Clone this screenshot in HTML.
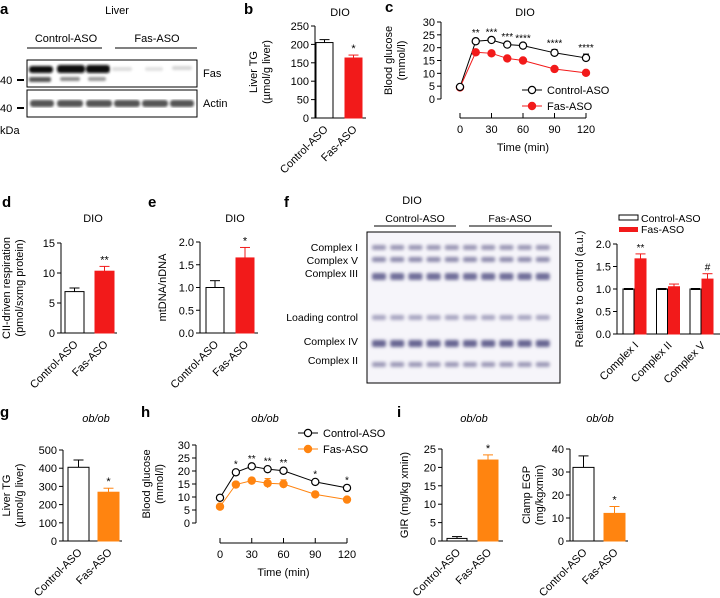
<!DOCTYPE html>
<html><head><meta charset="utf-8"><style>
body{margin:0;background:#fff}
svg{display:block;font-family:"Liberation Sans",Arial,sans-serif}
</style></head><body>
<svg id="fig" width="720" height="598" viewBox="0 0 720 598" xmlns="http://www.w3.org/2000/svg">
<defs>
<filter id="blur1"><feGaussianBlur stdDeviation="1.2"/></filter>
<filter id="blur2"><feGaussianBlur stdDeviation="1.6"/></filter>
</defs>
<g font-weight="bold" font-size="15">
<text x="0" y="14">a</text><text x="244" y="14">b</text><text x="385" y="12">c</text>
<text x="2" y="207">d</text><text x="148" y="207">e</text><text x="284" y="207">f</text>
<text x="0" y="417">g</text><text x="141" y="417">h</text><text x="397" y="417">i</text>
</g>
<g font-size="11">
<text x="117" y="14" text-anchor="middle">Liver</text>
<text x="66" y="42" text-anchor="middle">Control-ASO</text>
<text x="157" y="42" text-anchor="middle">Fas-ASO</text>
<line x1="27" y1="48" x2="102" y2="48" stroke="#000"/>
<line x1="115" y1="48" x2="197" y2="48" stroke="#000"/>
<rect x="27" y="60" width="170" height="27" fill="#fff" stroke="#000"/>
<g filter="url(#blur1)">
<rect x="29" y="66" width="24" height="7" rx="3" fill="#111"/>
<rect x="57" y="65" width="28" height="8" rx="3" fill="#111"/>
<rect x="86" y="65" width="24" height="8" rx="3" fill="#111"/>
<rect x="29" y="77" width="22" height="5" rx="2" fill="#555"/>
<rect x="60" y="77" width="20" height="4" rx="2" fill="#888"/>
<rect x="88" y="77" width="18" height="4" rx="2" fill="#999"/>
<rect x="112" y="67" width="20" height="4" rx="2" fill="#ddd"/>
<rect x="145" y="67" width="18" height="4" rx="2" fill="#e2e2e2"/>
<rect x="172" y="66" width="20" height="4" rx="2" fill="#d6d6d6"/>
</g>
<rect x="27" y="90" width="170" height="27" fill="#fff" stroke="#000"/>
<g filter="url(#blur1)" fill="#555">
<rect x="30" y="100" width="24" height="7" rx="3"/><rect x="57" y="100" width="26" height="7" rx="3"/>
<rect x="86" y="100" width="26" height="7" rx="3"/><rect x="114" y="100" width="26" height="7" rx="3"/>
<rect x="142" y="100" width="26" height="7" rx="3"/><rect x="170" y="100" width="24" height="7" rx="3"/>
</g>
<text x="203" y="77">Fas</text><text x="203" y="107">Actin</text>
<text x="0" y="84">40</text><line x1="17" y1="80" x2="24" y2="80" stroke="#000" stroke-width="2"/>
<text x="0" y="112">40</text><line x1="17" y1="108" x2="24" y2="108" stroke="#000" stroke-width="2"/>
<text x="0" y="134">kDa</text>
</g>
<g font-size="10.5">
<text x="412" y="204" text-anchor="middle" font-size="11">DIO</text>
<text x="415" y="222" text-anchor="middle">Control-ASO</text>
<text x="510" y="222" text-anchor="middle">Fas-ASO</text>
<line x1="374" y1="226" x2="456" y2="226" stroke="#000"/>
<line x1="469" y1="226" x2="552" y2="226" stroke="#000"/>
<rect x="367" y="232" width="193" height="151" fill="#f6f5fa" stroke="#000"/>
<g id="fbands" filter="url(#blur2)"></g>
<g text-anchor="end">
<text x="358" y="251">Complex I</text><text x="358" y="264">Complex V</text><text x="358" y="277">Complex III</text>
<text x="358" y="321">Loading control</text><text x="358" y="345">Complex IV</text><text x="358" y="364">Complex II</text>
</g>
</g>
<g id="charts"></g>
</svg>
<script>
const groups = ["Control-ASO", "Fas-ASO"];
const bLiverTG = [205, 163]; const bErr = [8, 8];
const timePts = [0, 15, 30, 45, 60, 90, 120];
const cControl = [4.7, 22.5, 23, 21.2, 20.8, 18, 16];
const cFas = [4.5, 18.2, 17.8, 15.8, 15, 11.7, 10.2];
const cControlErr = [0.3, 0.8, 0.5, 0.6, 0.5, 1.3, 1.5];
const cStars = ["", "**", "***", "***", "****", "****", "****"];
const dResp = [6.9, 10.3]; const dErr = [0.6, 0.8];
const eMt = [1.0, 1.65]; const eErr = [0.15, 0.23];
const fComplex = ["Complex I", "Complex II", "Complex V"];
const fControl = [1.0, 1.0, 1.0]; const fFas = [1.67, 1.05, 1.22];
const fFasErr = [0.11, 0.06, 0.12]; const fStars = ["**", "", "#"];
const gTG = [405, 268]; const gErr = [40, 22];
const hControl = [9.7, 19.5, 21.8, 20.7, 20.1, 15.8, 13.5];
const hFas = [6.3, 14.8, 16.3, 15.3, 15, 11, 9];
const hFasErr = [0.4, 0.6, 1.0, 1.8, 1.6, 0.8, 0.6];
const hStars = ["", "*", "**", "**", "**", "*", "*"];
const iGIR = [0.7, 22]; const iGIRErr = [0.5, 1.4];
const iEGP = [32, 12]; const iEGPErr = [5, 3];
const bandRows = [248, 260, 276, 318, 343, 365];
const bandShade = ["#8a86a8", "#7d7aa0", "#5b5888", "#9a96b6", "#4f4c80", "#8d89ac"];

const NS = "http://www.w3.org/2000/svg";
const root = document.getElementById("charts");
function mk(tag, attrs, parent, txt) {
  const e = document.createElementNS(NS, tag);
  for (const k in attrs) e.setAttribute(k, attrs[k]);
  if (txt !== undefined) e.textContent = txt;
  (parent || root).appendChild(e);
  return e;
}
function lin(d0, d1, r0, r1) { return v => r0 + (v - d0) / (d1 - d0) * (r1 - r0); }

const fb = document.getElementById("fbands");
for (let r = 0; r < bandRows.length; r++) {
  for (let l = 0; l < 10; l++) {
    const b = mk("rect", {x: 372 + l * 18.2, y: bandRows[r] - 3, width: 14, height: r === 2 || r === 4 ? 7 : 5, rx: 2, fill: bandShade[r], opacity: 0.85}, fb);
    
    
  }
}

function yAxis(g, x, y, ticks, fmt, name) {
  const ax = mk("line", {x1: x, y1: y(ticks[0]), x2: x, y2: y(ticks[ticks.length - 1]), stroke: "#000"}, g);
  
  
  ticks.forEach(t => {
    mk("line", {x1: x - 4, y1: y(t), x2: x, y2: y(t), stroke: "#000"}, g);
    const tl = mk("text", {x: x - 6, y: y(t) + 4, "text-anchor": "end", "font-size": 11}, g, fmt(t));
    
    
  });
}
function yTitle(g, x, yc, lines, name) {
  const t = mk("text", {transform: `translate(${x},${yc}) rotate(-90)`, "text-anchor": "middle", "font-size": 11}, g);
  
  
  lines.forEach((l, i) => mk("tspan", {x: 0, dy: i ? 13 : 0}, t, l));
}
function title(g, x, y, s, italic) {
  const t = mk("text", {x, y, "text-anchor": "middle", "font-size": 11, "font-style": italic ? "italic" : "normal"}, g, s);
  
  
}
function errBar(g, xc, y0, y1, col) {
  mk("line", {x1: xc, y1: y0, x2: xc, y2: y1, stroke: col}, g);
  mk("line", {x1: xc - 5, y1: y1, x2: xc + 5, y2: y1, stroke: col}, g);
}
function rotLabel(g, xc, y, s) {
  const t = mk("text", {transform: `translate(${xc + 4},${y}) rotate(-45)`, "text-anchor": "end", "font-size": 11}, g, s);
  
  
}
function barChart(o) {
  const g = mk("g", {});
  
  
  const y = lin(o.ticks[0], o.ticks[o.ticks.length - 1], o.y0, o.y1);
  title(g, o.tx, o.ty, o.title, o.italic);
  yAxis(g, o.ax, y, o.ticks, o.fmt, 'y-axis');
  yTitle(g, o.ytx, (o.y0 + o.y1) / 2, o.ylab, 'y-axis-title');
  mk("line", {x1: o.ax, y1: o.y0, x2: o.axEnd, y2: o.y0, stroke: "#000"}, g);
  o.vals.forEach((v, i) => {
    const x = o.bx[i], col = i ? o.col : "#fff", sc = i ? o.col : "#000";
    const r = mk("rect", {x, y: y(v), width: o.bw, height: o.y0 - y(v), fill: col, stroke: sc}, g);
    
    
    errBar(g, x + o.bw / 2, y(v), y(v + o.err[i]), sc);
    if (i && o.star) mk("text", {x: x + o.bw / 2, y: y(v + o.err[i]) - 3, "text-anchor": "middle", "font-size": 11}, g, o.star);
    rotLabel(g, x + o.bw / 2, o.y0 + 12, groups[i]);
  });
}
barChart({name: "liver-tg-chart-b", title: "DIO", tx: 340, ty: 16, ticks: [0, 50, 100, 150, 200, 250], fmt: v => v, y0: 118, y1: 26, ax: 315, axEnd: 366, bx: [316, 345], bw: 17, vals: bLiverTG, err: bErr, col: "#f21a1a", star: "*", ytx: 257, ylab: ["Liver TG", "(µmol/g liver)"]});
barChart({name: "respiration-chart-d", title: "DIO", tx: 93, ty: 222, ticks: [0, 5, 10, 15], fmt: v => v, y0: 333, y1: 243, ax: 61, axEnd: 117, bx: [65, 95], bw: 19, vals: dResp, err: dErr, col: "#f21a1a", star: "**", ytx: 10, ylab: ["CII-driven respiration", "(pmol/sxmg protein)"]});
barChart({name: "mtdna-chart-e", title: "DIO", tx: 235, ty: 222, ticks: [0, 0.5, 1, 1.5, 2], fmt: v => v.toFixed(1), y0: 333, y1: 242, ax: 200, axEnd: 258, bx: [206, 236], bw: 18, vals: eMt, err: eErr, col: "#f21a1a", star: "*", ytx: 166, ylab: ["mtDNA/nDNA"]});
barChart({name: "liver-tg-chart-g", title: "ob/ob", italic: true, tx: 96, ty: 422, ticks: [0, 100, 200, 300, 400, 500], fmt: v => v, y0: 541, y1: 450, ax: 63, axEnd: 122, bx: [68, 98], bw: 21, vals: gTG, err: gErr, col: "#ff8410", star: "*", ytx: 10, ylab: ["Liver TG", "(µmol/g liver)"]});
barChart({name: "gir-chart-i", title: "ob/ob", italic: true, tx: 474, ty: 422, ticks: [0, 5, 10, 15, 20, 25], fmt: v => v, y0: 541, y1: 449, ax: 442, axEnd: 503, bx: [447, 478], bw: 20, vals: iGIR, err: iGIRErr, col: "#ff8410", star: "*", ytx: 408, ylab: ["GIR (mg/kg xmin)"]});
barChart({name: "egp-chart-i", title: "ob/ob", italic: true, tx: 600, ty: 422, ticks: [0, 10, 20, 30, 40], fmt: v => v, y0: 541, y1: 449, ax: 570, axEnd: 628, bx: [573, 604], bw: 21, vals: iEGP, err: iEGPErr, col: "#ff8410", star: "*", ytx: 530, ylab: ["Clamp EGP", "(mg/kgxmin)"]});

(function () {
  const g = mk("g", {});
  
  
  const y = lin(0, 2, 334, 244);
  yAxis(g, 617, y, [0, 0.5, 1, 1.5, 2], v => v.toFixed(1), 'y-axis');
  yTitle(g, 583, 289, ["Relative to control (a.u.)"], 'y-axis-title');
  mk("line", {x1: 617, y1: 334, x2: 720, y2: 334, stroke: "#000"}, g);
  fComplex.forEach((c, i) => {
    const x0 = 623 + i * 33.5;
    const r1 = mk("rect", {x: x0, y: y(fControl[i]), width: 11, height: 334 - y(fControl[i]), fill: "#fff", stroke: "#000"}, g);
    
    
    const r2 = mk("rect", {x: x0 + 12, y: y(fFas[i]), width: 11, height: 334 - y(fFas[i]), fill: "#f21a1a", stroke: "#f21a1a"}, g);
    
    
    errBar(g, x0 + 17.5, y(fFas[i]), y(fFas[i] + fFasErr[i]), "#f21a1a");
    mk("line", {x1: x0 + 1, y1: y(fControl[i]), x2: x0 + 10, y2: y(fControl[i]), stroke: "#000", "stroke-width": 2}, g);
    mk("text", {x: x0 + 17.5, y: y(fFas[i] + fFasErr[i]) - 3, "text-anchor": "middle", "font-size": 10}, g, fStars[i]);
    rotLabel(g, x0 + 12, 346, c);
  });
  const l1 = mk("rect", {x: 619, y: 215, width: 19, height: 5, fill: "#fff", stroke: "#000"}, g);
  
  
  mk("text", {x: 641, y: 222, "font-size": 10.5}, g, "Control-ASO");
  const l2 = mk("rect", {x: 619, y: 227, width: 19, height: 5, fill: "#f21a1a"}, g);
  
  
  mk("text", {x: 641, y: 233, "font-size": 10.5}, g, "Fas-ASO");
})();

function lineChart(o) {
  const g = mk("g", {});
  
  
  const y = lin(0, 30, o.y0, o.y1), x = lin(0, 120, o.x0, o.x1);
  title(g, o.tx, o.ty, o.title, o.italic);
  yAxis(g, o.ax, y, [0, 5, 10, 15, 20, 25, 30], v => v, 'y-axis');
  yTitle(g, o.ytx, (o.y0 + o.y1) / 2, ["Blood glucose", "(mmol/l)"], 'y-axis-title');
  const xa = mk("line", {x1: x(0), y1: o.xay, x2: x(120), y2: o.xay, stroke: "#000"}, g);
  
  
  [0, 30, 60, 90, 120].forEach(t => {
    mk("line", {x1: x(t), y1: o.xay - 5, x2: x(t), y2: o.xay, stroke: "#000"}, g);
    const tl = mk("text", {x: x(t), y: o.xay + 15, "text-anchor": "middle", "font-size": 11}, g, t);
    
    
  });
  const xt = mk("text", {x: (x(0) + x(120)) / 2, y: o.xay + 33, "text-anchor": "middle", "font-size": 11}, g, "Time (min)");
  
  
  const series = [[o.ctrl, "#000", "#fff", o.ctrlErr], [o.fas, o.col, o.col, o.fasErr]];
  series.forEach(([vals, sc, fill, err], si) => {
    if (err) timePts.forEach((t, i) => { mk("line", {x1: x(t), y1: y(vals[i] - err[i]), x2: x(t), y2: y(vals[i] + err[i]), stroke: sc}, g); mk("line", {x1: x(t) - 3, y1: y(vals[i] + err[i]), x2: x(t) + 3, y2: y(vals[i] + err[i]), stroke: sc}, g); });
    const p = mk("polyline", {points: timePts.map((t, i) => x(t) + "," + y(vals[i])).join(" "), fill: "none", stroke: sc}, g);
    
    
  });
  series.slice().reverse().forEach(([vals, sc, fill]) => timePts.forEach((t, i) => {
    const c = mk("circle", {cx: x(t), cy: y(vals[i]), r: 3.6, fill, stroke: sc, "stroke-width": 1.2}, g);
    
    
  }));
  timePts.forEach((t, i) => {
    const top = y(o.ctrl[i] + (o.ctrlErr ? o.ctrlErr[i] : 0.6));
    mk("text", {x: x(t), y: top - 3, "text-anchor": "middle", "font-size": 10}, g, o.stars[i]);
  });
  [["Control-ASO", "#000", "#fff", o.ly], ["Fas-ASO", o.col, o.col, o.ly + 16]].forEach(([s, sc, fill, ly]) => {
    const lg = mk("g", {}, g);
    
    
    mk("line", {x1: o.lx, y1: ly, x2: o.lx + 20, y2: ly, stroke: sc}, lg);
    mk("circle", {cx: o.lx + 10, cy: ly, r: 3.6, fill, stroke: sc, "stroke-width": 1.2}, lg);
    mk("text", {x: o.lx + 25, y: ly + 4, "font-size": 11}, lg, s);
  });
}
lineChart({name: "glucose-chart-c", title: "DIO", tx: 525, ty: 16, y0: 99, y1: 22, ax: 441, x0: 460, x1: 586, xay: 118, ytx: 392, ctrl: cControl, fas: cFas, ctrlErr: cControlErr, fasErr: null, stars: cStars, col: "#f21a1a", lx: 522, ly: 90});
lineChart({name: "glucose-chart-h", title: "ob/ob", italic: true, tx: 265, ty: 422, y0: 523, y1: 445, ax: 196, x0: 220, x1: 347, xay: 543, ytx: 150, ctrl: hControl, fas: hFas, ctrlErr: null, fasErr: hFasErr, stars: hStars, col: "#ff8410", lx: 298, ly: 433});
</script>
</body></html>
